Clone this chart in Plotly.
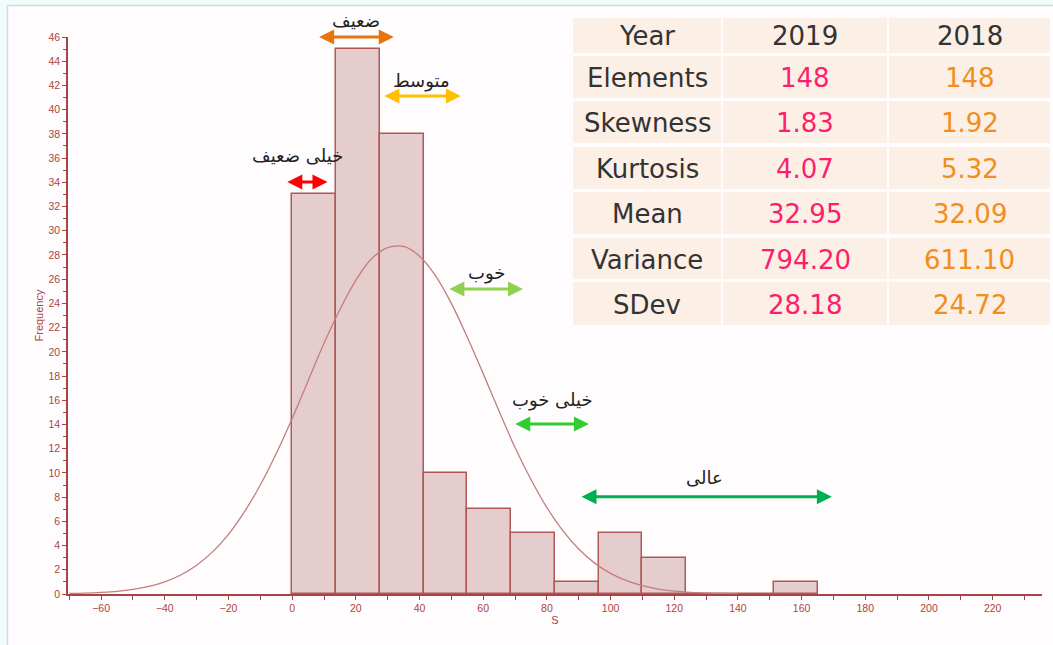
import plotly.graph_objects as go

# ---------------- data ----------------
bin_edges = [0, 13.75, 27.5, 41.25, 55, 68.75, 82.5, 96.25, 110, 123.75, 137.5, 151.25, 165]
counts = [33, 45, 38, 10, 7, 5, 1, 5, 3, 0, 0, 1]

# fitted normal curve
curve_x = [-70, -65, -60, -55, -50, -45, -40, -35, -30, -25, -20, -15, -10, -5, 0, 5, 10, 15, 20,
           25, 30, 35, 40, 45, 50, 55, 60, 65, 70, 75, 80, 85, 90, 95, 100, 105, 110, 115, 120,
           125, 130, 135, 140]
curve_y = [0.04, 0.07, 0.13, 0.22, 0.38, 0.63, 1.01, 1.57, 2.38, 3.48, 4.93, 6.78, 9.0, 11.6, 14.5,
           17.6, 20.7, 23.5, 25.9, 27.7, 28.6, 28.7, 27.9, 26.3, 24.0, 21.2, 18.2, 15.1, 12.1, 9.46,
           7.14, 5.23, 3.71, 2.55, 1.70, 1.10, 0.69, 0.41, 0.24, 0.14, 0.08, 0.04, 0.02]

# range annotations: label, x-start, x-end, y, colour, label x, label y
band_labels = ["خیلی ضعیف", "ضعیف", "متوسط", "خوب", "خیلی خوب", "عالی"]
band_x0 = [-2.0, 8.0, 28.5, 48.9, 69.6, 90.4]
band_x1 = [11.1, 31.9, 53.0, 72.5, 93.2, 169.5]
band_y = [34.03, 46.0, 41.13, 25.18, 14.03, 8.03]
band_colors = ["#ff0000", "#e8740c", "#ffc000", "#92d050", "#33cc33", "#00b050"]
band_label_x = [1.7, 20.2, 40.6, 61.1, 81.9, 129.6]
band_label_y = [36.2, 47.4, 42.4, 26.5, 16.0, 9.6]

# statistics table
table_header = ["Year", "2019", "2018"]
table_rows = ["Elements", "Skewness", "Kurtosis", "Mean", "Variance", "SDev"]
values_2019 = ["148", "1.83", "4.07", "32.95", "794.20", "28.18"]
values_2018 = ["148", "1.92", "5.32", "32.09", "611.10", "24.72"]

Y_MAX = 46
X_RANGE = [-70.4, 235.5]

# ---------------- figure ----------------
W, H = 1053, 645
ML, MR, MT, MB = 68, 11, 37, 51
PW, PH = W - ML - MR, H - MT - MB


def px(xp):
    return (xp - ML) / PW


def py(yp):
    return (H - MB - yp) / PH


axis_col = "#a84444"
tick_col = "#ab4444"

fig = go.Figure()

centers = [(bin_edges[i] + bin_edges[i + 1]) / 2 for i in range(len(counts))]
widths = [bin_edges[i + 1] - bin_edges[i] for i in range(len(counts))]
fig.add_trace(go.Bar(
    x=centers, y=counts, width=widths,
    marker=dict(color="#e5cdce", line=dict(color="#b05858", width=1.5)),
    hoverinfo="x+y", showlegend=False,
))

fig.add_trace(go.Scatter(
    x=curve_x, y=curve_y, mode="lines", line=dict(color="#c27d7d", width=1.3, shape="spline"),
    hoverinfo="skip", showlegend=False,
))

annotations = []
for lab, x0, x1, yv, c, lx, ly in zip(band_labels, band_x0, band_x1, band_y, band_colors,
                                       band_label_x, band_label_y):
    annotations.append(dict(
        x=x1, y=yv, ax=x0, ay=yv, xref="x", yref="y", axref="x", ayref="y",
        text="", showarrow=True, arrowside="end+start", arrowhead=2, startarrowhead=2,
        arrowwidth=3, arrowsize=1, startarrowsize=1, arrowcolor=c, standoff=0, startstandoff=0,
    ))
    annotations.append(dict(
        x=lx, y=ly / Y_MAX, xref="x", yref="paper", text=lab, showarrow=False,
        font=dict(family="DejaVu Sans", size=18, color="#222222"),
        xanchor="center", yanchor="middle",
    ))

# table drawn as cells
shapes = []
col_l = [573, 723, 889]
col_r = [721, 887, 1050]
row_t = [18, 56, 101, 147, 192, 238, 282]
row_b = [53, 98, 143, 189, 234, 279, 325]
cell_fill = "#fcefe6"
txt_cols = ["#333333", "#fc1f6d", "#f28e1c"]
all_rows = [table_header] + [[r, a, b] for r, a, b in zip(table_rows, values_2019, values_2018)]
for ri, row in enumerate(all_rows):
    for ci, txt in enumerate(row):
        shapes.append(dict(
            type="rect", xref="paper", yref="paper",
            x0=px(col_l[ci]), x1=px(col_r[ci]), y0=py(row_b[ri]), y1=py(row_t[ri]),
            fillcolor=cell_fill, line=dict(width=0), layer="above",
        ))
        color = "#333333" if (ri == 0 or ci == 0) else txt_cols[ci]
        annotations.append(dict(
            x=px((col_l[ci] + col_r[ci]) / 2), y=py((row_t[ri] + row_b[ri]) / 2 + 1),
            xref="paper", yref="paper", text=txt, showarrow=False,
            font=dict(family="DejaVu Sans", size=26, color=color),
            xanchor="center", yanchor="middle",
        ))

# panel background
shapes.insert(0, dict(
    type="rect", xref="paper", yref="paper",
    x0=px(7.5), x1=px(1060), y0=py(660), y1=py(5.5),
    fillcolor="#fffcfd", line=dict(color="#d2dada", width=1.5), layer="below",
))

fig.update_layout(
    width=W, height=H,
    margin=dict(l=ML, r=MR, t=MT, b=MB, autoexpand=False),
    paper_bgcolor="#f1fdfd",
    plot_bgcolor="rgba(0,0,0,0)",
    bargap=0,
    shapes=shapes,
    annotations=annotations,
    font=dict(family="Liberation Sans, Arial", size=10, color=tick_col),
)

fig.update_xaxes(
    range=X_RANGE, tick0=0, dtick=20, ticks="outside", ticklen=4, tickwidth=1,
    tickcolor=axis_col, showline=True, linecolor=axis_col, linewidth=1.5,
    showgrid=False, zeroline=False, automargin=False,
    tickfont=dict(family="Liberation Sans, Arial", size=10.5, color=tick_col),
    minor=dict(dtick=10, ticks="outside", ticklen=4, tickcolor=axis_col, showgrid=False),
    title=dict(text="S", font=dict(family="Liberation Sans, Arial", size=11, color=tick_col),
               standoff=1),
)
fig.update_yaxes(
    range=[0, Y_MAX], tick0=0, dtick=2, ticks="outside", ticklen=4, tickwidth=1,
    tickcolor=axis_col, showline=True, linecolor=axis_col, linewidth=1.5,
    showgrid=False, zeroline=False, automargin=False,
    tickfont=dict(family="Liberation Sans, Arial", size=10.5, color=tick_col),
    minor=dict(dtick=1, ticks="outside", ticklen=3, tickcolor=axis_col, showgrid=False),
    title=dict(text="Frequency", font=dict(family="Liberation Sans, Arial", size=11, color=tick_col),
               standoff=3),
)

fig.write_html(
    "out.html",
    config={"displayModeBar": False},
    post_script="document.body.style.margin='0px';document.body.style.overflow='hidden';",
)
